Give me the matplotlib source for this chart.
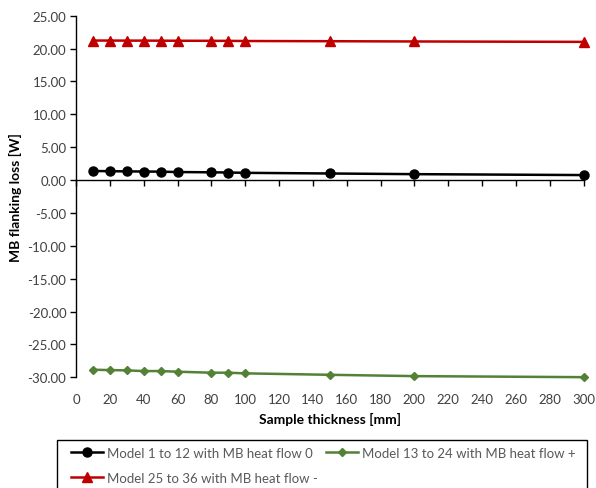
import matplotlib
matplotlib.use("Agg")
import matplotlib.pyplot as plt
from matplotlib.ticker import FormatStrFormatter, MultipleLocator
from matplotlib.patches import Rectangle

plt.rcParams['font.family'] = ['Lato', 'DejaVu Sans']

thickness = [10, 20, 30, 40, 50, 60, 80, 90, 100, 150, 200, 300]
flow_zero = [1.38, 1.35, 1.32, 1.30, 1.28, 1.22, 1.18, 1.15, 1.10, 1.00, 0.90, 0.76]
flow_plus = [-28.85, -28.90, -28.95, -29.05, -29.05, -29.15, -29.30, -29.30, -29.40, -29.62, -29.82, -29.98]
flow_minus = [21.22, 21.22, 21.21, 21.21, 21.20, 21.19, 21.18, 21.17, 21.15, 21.12, 21.08, 21.02]

labels = ["Model 1 to 12 with MB heat flow 0",
          "Model 13 to 24 with MB heat flow +",
          "Model 25 to 36 with MB heat flow -"]
colors = ["#000000", "#538135", "#C00000"]

W, H = 596, 489
fig = plt.figure(figsize=(W / 100, H / 100), dpi=100)
ax = fig.add_axes([76 / W, 1 - 378.3 / H, (583.5 - 76) / W, (378.3 - 16.7) / H])

l0, = ax.plot(thickness, flow_zero, color=colors[0], lw=1.8, marker='o', ms=6.5, clip_on=False, label=labels[0])
l1, = ax.plot(thickness, flow_plus, color=colors[1], lw=1.8, marker='D', ms=4.5, clip_on=False, label=labels[1])
l2, = ax.plot(thickness, flow_minus, color=colors[2], lw=1.8, marker='^', ms=6.5, clip_on=False, label=labels[2])

ax.set_xlim(0, 300)
ax.set_ylim(-30, 25)
ax.yaxis.set_major_locator(MultipleLocator(5))
ax.yaxis.set_major_formatter(FormatStrFormatter('%.2f'))
ax.xaxis.set_major_locator(MultipleLocator(20))

for s in ['top', 'right']:
    ax.spines[s].set_visible(False)
ax.spines['left'].set_color('black')
ax.spines['left'].set_linewidth(1.0)
ax.spines['bottom'].set_position(('data', 0))
ax.spines['bottom'].set_linewidth(1.0)
ax.tick_params(axis='x', direction='out', length=4, width=1, labelbottom=False)
ax.tick_params(axis='y', direction='out', length=4, width=1, labelsize=9.5, labelcolor='#404040', pad=3)

sec = ax.secondary_xaxis(0.0)
sec.set_xticks(range(0, 301, 20))
sec.spines['bottom'].set_visible(False)
sec.tick_params(axis='x', length=0, labelsize=9.5, labelcolor='#404040', pad=11)

sec.set_xlabel('Sample thickness [mm]', fontsize=10, fontweight='bold', labelpad=5)
ax.set_ylabel('MB flanking loss [W]', fontsize=10, fontweight='bold', labelpad=4)

# legend frame (extends beyond the bottom edge of the figure)
fig.patches.append(Rectangle((57 / W, -0.05), (587 - 57) / W, 0.05 + 1 - 441 / H,
                             transform=fig.transFigure, fill=False,
                             edgecolor='black', linewidth=1.0))

leg = fig.legend(handles=[l0, l2, l1], labels=[labels[0], labels[2], labels[1]],
                 ncol=2, loc='upper left', bbox_to_anchor=(71 / W, 1 - 448 / H),
                 frameon=False, fontsize=9.5, handlelength=2.4, handletextpad=0.35,
                 borderpad=0.0, borderaxespad=0.0, labelspacing=0.95, columnspacing=0.6)
for t in leg.get_texts():
    t.set_color('#595959')

fig.savefig('out.png', dpi=100)
